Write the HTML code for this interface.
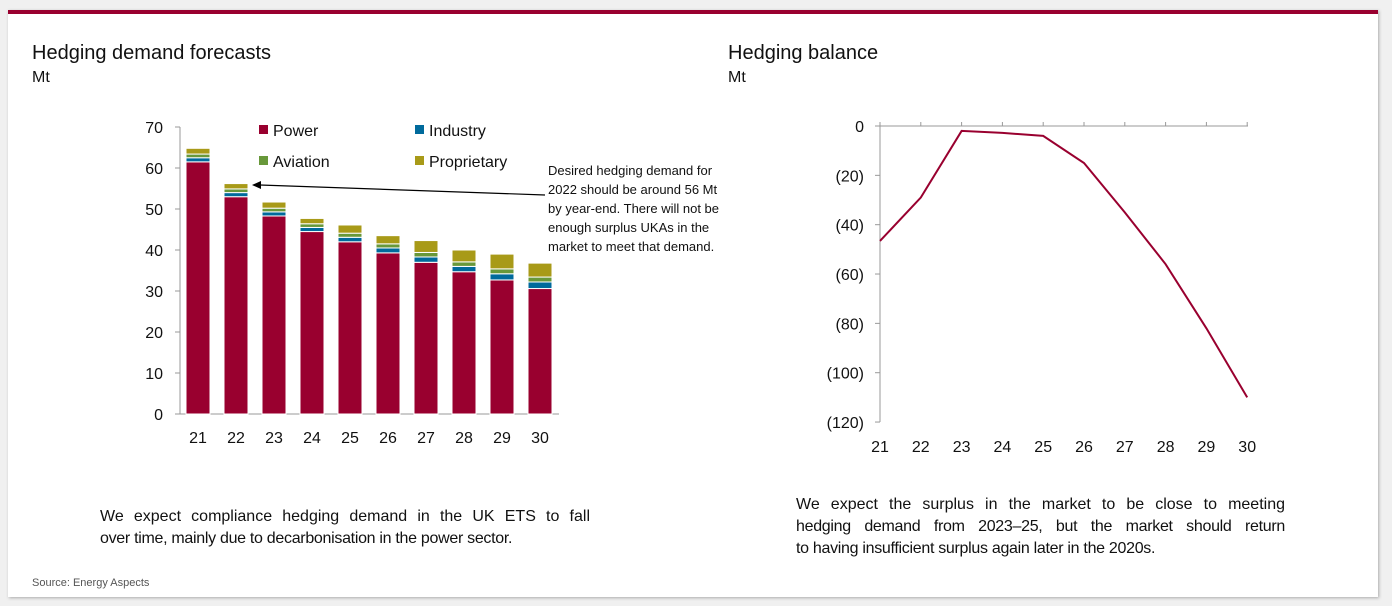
<!DOCTYPE html>
<html><head><meta charset="utf-8"><style>
body{margin:0;width:1392px;height:606px;background:#f0f0f0;font-family:"Liberation Sans",sans-serif;overflow:hidden;position:relative}
#panel{position:absolute;left:8px;top:10px;width:1370px;height:587px;background:#fff;border-top:4px solid #99002f;box-shadow:1px 1px 3px #aaa;box-sizing:border-box}
.t{position:absolute;color:#111;white-space:nowrap}
.h{font-size:20px}.u{font-size:16px}
.p{position:absolute;font-size:16px;line-height:22px;color:#111}
.p div{white-space:nowrap;height:22px}
.p .j{text-align:justify;text-align-last:justify}
</style></head><body>
<div id="panel"></div>
<div class="t h" style="left:32px;top:42px">Hedging demand forecasts</div>
<div class="t u" style="left:32px;top:69px">Mt</div>
<div class="t h" style="left:728px;top:42px">Hedging balance</div>
<div class="t u" style="left:728px;top:69px">Mt</div>
<div class="p" style="left:100px;top:506px;width:490px"><div class="j" style="white-space:normal">We expect compliance hedging demand in the UK ETS to fall</div><div style="letter-spacing:-0.3px">over time, mainly due to decarbonisation in the power sector.</div></div>
<div class="p" style="left:796px;top:494px;width:489px"><div class="j" style="white-space:normal">We expect the surplus in the market to be close to meeting</div><div class="j" style="white-space:normal;letter-spacing:-0.3px">hedging demand from 2023–25, but the market should return</div><div style="letter-spacing:-0.3px">to having insufficient surplus again later in the 2020s.</div></div>
<div class="t" style="left:32px;top:577px;font-size:11px;color:#555">Source: Energy Aspects</div>
<svg id="svg" width="1392" height="606" style="position:absolute;left:0;top:0" font-family="Liberation Sans, sans-serif"></svg>
<script>
const years=["21","22","23","24","25","26","27","28","29","30"];
const power=[61.5,53,48.3,44.5,42,39.3,37,34.7,32.7,30.6];
const industry=[1,1,1,1,1.1,1.2,1.3,1.3,1.5,1.6];
const aviation=[0.9,0.9,0.9,0.9,1,1,1.1,1.1,1.2,1.2];
const proprietary=[1.4,1.3,1.5,1.3,2,2,2.9,2.9,3.6,3.4];
const barTicks=[0,10,20,30,40,50,60,70];
const balance=[-46.6,-29,-2,-2.8,-4,-15,-35,-56,-82,-110];
const balTicks=[0,-20,-40,-60,-80,-100,-120];
const balTickLabels=["0","(20)","(40)","(60)","(80)","(100)","(120)"];
const svg=document.getElementById('svg');
const NS='http://www.w3.org/2000/svg';
function mk(tag,at,txt){const e=document.createElementNS(NS,tag);for(const k in at)e.setAttribute(k,at[k]);if(txt!=null)e.textContent=txt;svg.appendChild(e);return e;}
const bx=i=>198+i*38, by=v=>414-v*4.1;
let e=mk('line',{x1:180,y1:by(0),x2:180,y2:by(70),stroke:'#999'});

e=mk('line',{x1:180,y1:by(0),x2:559,y2:by(0),stroke:'#999'});

barTicks.forEach(t=>{mk('line',{x1:175,x2:180,y1:by(t),y2:by(t),stroke:'#999'});
 e=mk('text',{x:163,y:by(t)+6,'text-anchor':'end','font-size':16,fill:'#111'},t);
 });
const series=[[power,'#99002f'],[industry,'#006a9c'],[aviation,'#68983a'],[proprietary,'#a89a18']];
years.forEach((y,i)=>{let base=0;
 series.forEach(([arr,c],k)=>{const v=arr[i];
  e=mk('rect',{x:bx(i)-12,y:by(base+v),width:24,height:v*4.1,fill:c,stroke:'#fff','stroke-width':1});
  
  base+=v;});
 e=mk('text',{x:bx(i),y:443,'text-anchor':'middle','font-size':16,fill:'#111'},y);
 });
[['Power',259,130,'#99002f'],['Industry',415,130,'#006a9c'],['Aviation',259,161,'#68983a'],['Proprietary',415,161,'#a89a18']].forEach(([n,x,y,c])=>{
 e=mk('rect',{x:x,y:y-5,width:9,height:9,fill:c});
 e=mk('text',{x:x+14,y:y+6,'font-size':16,fill:'#111'},n);});
e=mk('line',{x1:545,y1:195,x2:260,y2:185,stroke:'#000','stroke-width':1.2});

mk('polygon',{points:'252,185 261,181 261,189',fill:'#000'});
["Desired hedging demand for","2022 should be around 56 Mt","by year-end. There will not be","enough surplus UKAs in the","market to meet that demand."].forEach((s,i)=>{
 e=mk('text',{x:548,y:175+i*19,'font-size':13,fill:'#111'},s);});
const lx=i=>880+i*40.8, ly=v=>126-v*2.467;
e=mk('line',{x1:880,y1:ly(0),x2:880,y2:ly(-120),stroke:'#999'});
e=mk('line',{x1:880,y1:ly(0),x2:1248,y2:ly(0),stroke:'#999'});
years.forEach((y,i)=>{mk('line',{x1:lx(i),x2:lx(i),y1:ly(0),y2:ly(0)-4,stroke:'#999'});
 e=mk('text',{x:lx(i),y:452,'text-anchor':'middle','font-size':16,fill:'#111'},y);});
balTicks.forEach((t,i)=>{mk('line',{x1:875,x2:880,y1:ly(t),y2:ly(t),stroke:'#999'});
 e=mk('text',{x:864,y:ly(t)+6,'text-anchor':'end','font-size':16,fill:'#111'},balTickLabels[i]);});
e=mk('polyline',{points:balance.map((v,i)=>lx(i)+','+ly(v)).join(' '),fill:'none',stroke:'#99002f','stroke-width':2});

</script>
</body></html>
